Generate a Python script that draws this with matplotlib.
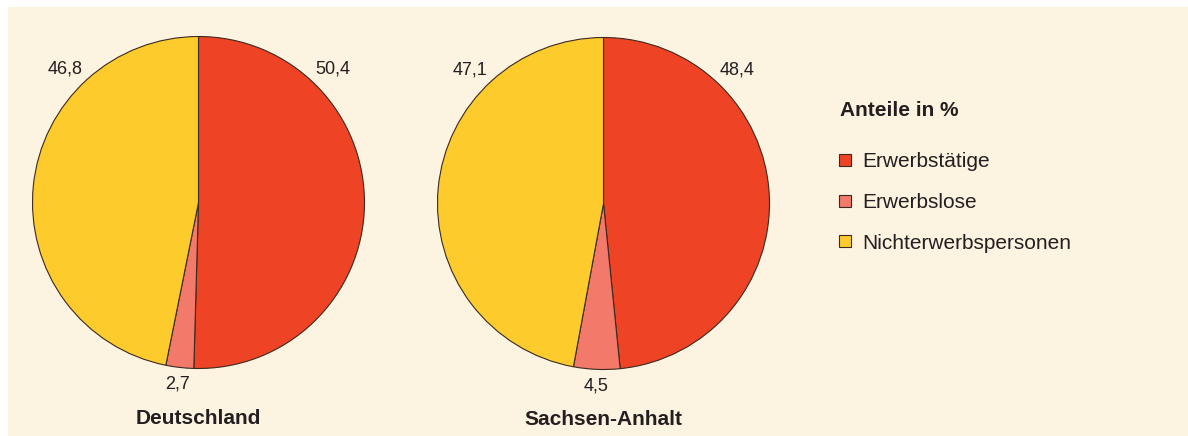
import matplotlib
matplotlib.use('Agg')
import matplotlib.pyplot as plt
from matplotlib.lines import Line2D
import numpy as np

# Anteile in % (Erwerbstätige, Erwerbslose, Nichterwerbspersonen)
categories = ['Erwerbstätige', 'Erwerbslose', 'Nichterwerbspersonen']
regions = ['Deutschland', 'Sachsen-Anhalt']
deutschland = [50.4, 2.7, 46.8]
sachsen_anhalt = [48.4, 4.5, 47.1]

colors = ['#EE4324', '#F3796A', '#FDCB2B']
bg = '#FDF3E1'
txt = '#231F20'
edge = '#3B2A20'

plt.rcParams['font.family'] = ['Liberation Sans', 'DejaVu Sans']

W, H = 1188, 436
fig = plt.figure(figsize=(W / 100, H / 100), dpi=100, facecolor='white')
# cream panel
fig.patches.append(plt.Rectangle((8 / W, -0.01), 1, 1.01 - 7 / H, transform=fig.transFigure,
                                 facecolor=bg, edgecolor='none', zorder=-5))

R = 166  # pie radius in px
centers = [(198.5, 202.5), (603.5, 203.5)]


def label_angle(w):
    # small slices: middle; big slices: 45 degrees off the vertical
    span = w.theta2 - w.theta1
    if span < 60:
        return np.deg2rad((w.theta1 + w.theta2) / 2)
    if abs((w.theta2 % 360) - 90) < 1:
        return np.deg2rad(90 - 45)
    return np.deg2rad(90 + 45)


for (cx, cy), name, vals in zip(centers, regions, [deutschland, sachsen_anhalt]):
    ax = fig.add_axes([(cx - R) / W, (H - cy - R) / H, 2 * R / W, 2 * R / H])
    wedges, _ = ax.pie(vals, colors=colors, startangle=90, counterclock=False,
                       wedgeprops=dict(edgecolor=edge, linewidth=0.8))
    ax.set_xlim(-1, 1)
    ax.set_ylim(-1, 1)
    ax.set_aspect('equal')
    ax.axis('off')
    for w, v in zip(wedges, vals):
        a = label_angle(w)
        d = 1.10 if (w.theta2 - w.theta1) < 60 else 1.14
        ax.text(d * np.cos(a), d * np.sin(a), f'{v:.1f}'.replace('.', ','),
                ha='center', va='center', fontsize=13, color=txt, clip_on=False)
    ax.text(0, -1.30, name, ha='center', va='center', fontsize=15,
            fontweight='bold', color=txt, clip_on=False)

fig.text(840 / W, 1 - 110 / H, 'Anteile in %', ha='left', va='center',
         fontsize=15, fontweight='bold', color=txt)
handles = [Line2D([], [], ls='none', marker='s', markersize=8, markerfacecolor=c,
                  markeredgecolor=edge, markeredgewidth=0.8) for c in colors]
leg = fig.legend(handles, categories, loc='upper left',
                 bbox_to_anchor=(837 / W, 1 - 152 / H), frameon=False,
                 fontsize=15, handlelength=0.8, handletextpad=0.4,
                 labelspacing=1.05, borderpad=0, borderaxespad=0)
for t in leg.get_texts():
    t.set_color(txt)

fig.savefig('out.png', dpi=100, facecolor=fig.get_facecolor())
